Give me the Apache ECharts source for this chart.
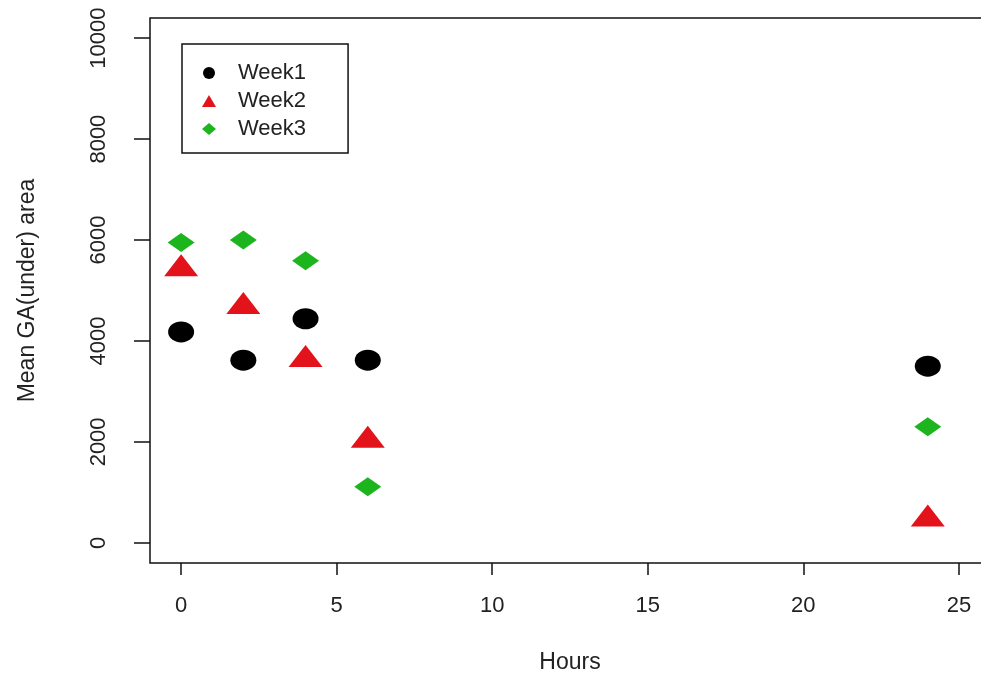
<!DOCTYPE html>
<html>
<head>
<meta charset="utf-8">
<script src="https://cdn.jsdelivr.net/npm/echarts@6/dist/echarts.min.js"></script>
<style>
  html, body { margin: 0; padding: 0; background: #fff; }
  #chart { width: 981px; height: 675px; }
</style>
</head>
<body>
<div id="chart"></div>
<script>
  // hours after treatment
  var hours = [0, 2, 4, 6, 24];
  var week1 = [4180, 3620, 4440, 3620, 3500];
  var week2 = [5500, 4750, 3700, 2100, 540];
  var week3 = [5950, 6000, 5590, 1110, 2300];
  var xTicks = [0, 5, 10, 15, 20, 25];
  var yTicks = [0, 2000, 4000, 6000, 8000, 10000];

  var font = "'Liberation Sans', Arial, sans-serif";
  var textColor = '#222';

  function pts(ys) {
    return hours.map(function (h, i) { return [h, ys[i]]; });
  }

  var chart = echarts.init(document.getElementById('chart'));
  chart.setOption({
    animation: false,
    backgroundColor: '#fff',
    grid: {
      left: 150,
      top: 18,
      right: -9,
      bottom: 112,
      show: true,
      borderColor: '#111',
      borderWidth: 1.5,
      outerBoundsMode: 'none'
    },
    legend: {
      orient: 'vertical',
      left: 182,
      top: 44,
      padding: [16, 42, 11, 20],
      borderColor: '#111',
      borderWidth: 1.5,
      itemWidth: 14,
      itemHeight: 12,
      itemGap: 2,
      textStyle: {
        fontFamily: font,
        fontSize: 22,
        color: textColor,
        lineHeight: 26,
        padding: [0, 0, 0, 17]
      },
      data: [
        { name: 'Week1', icon: 'circle', itemStyle: { color: '#000' } },
        { name: 'Week2', icon: 'triangle', itemStyle: { color: '#e3131b' } },
        { name: 'Week3', icon: 'diamond', itemStyle: { color: '#1db51d' } }
      ]
    },
    xAxis: {
      type: 'value',
      min: -1,
      max: 26,
      name: 'Hours',
      nameLocation: 'middle',
      nameGap: 88,
      nameMoveOverlap: false,
      nameTextStyle: { fontFamily: font, fontSize: 23, color: textColor },
      axisLine: { show: false, onZero: false },
      splitLine: { show: false },
      axisTick: {
        customValues: xTicks,
        length: 12,
        lineStyle: { color: '#111', width: 1.5 }
      },
      axisLabel: {
        customValues: xTicks,
        formatter: function (v) { return String(v); },
        margin: 32,
        fontFamily: font,
        fontSize: 22,
        color: textColor
      }
    },
    yAxis: {
      type: 'value',
      min: -400,
      max: 10400,
      name: 'Mean GA(under) area',
      nameLocation: 'middle',
      nameGap: 111,
      nameMoveOverlap: false,
      nameTextStyle: { fontFamily: font, fontSize: 23, color: textColor },
      axisLine: { show: false, onZero: false },
      splitLine: { show: false },
      axisTick: {
        customValues: yTicks,
        length: 16,
        lineStyle: { color: '#111', width: 1.5 }
      },
      axisLabel: {
        customValues: yTicks,
        formatter: function (v) { return String(v); },
        rotate: 90,
        margin: 40,
        fontFamily: font,
        fontSize: 22,
        color: textColor
      }
    },
    series: [
      {
        name: 'Week1',
        type: 'scatter',
        symbol: 'circle',
        symbolSize: [26, 21],
        itemStyle: { color: '#000', opacity: 1 },
        data: pts(week1)
      },
      {
        name: 'Week2',
        type: 'scatter',
        symbol: 'triangle',
        symbolSize: [34, 22],
        itemStyle: { color: '#e3131b', opacity: 1 },
        data: pts(week2)
      },
      {
        name: 'Week3',
        type: 'scatter',
        symbol: 'diamond',
        symbolSize: [27, 19],
        itemStyle: { color: '#1db51d', opacity: 1 },
        data: pts(week3)
      }
    ]
  });
</script>
</body>
</html>
